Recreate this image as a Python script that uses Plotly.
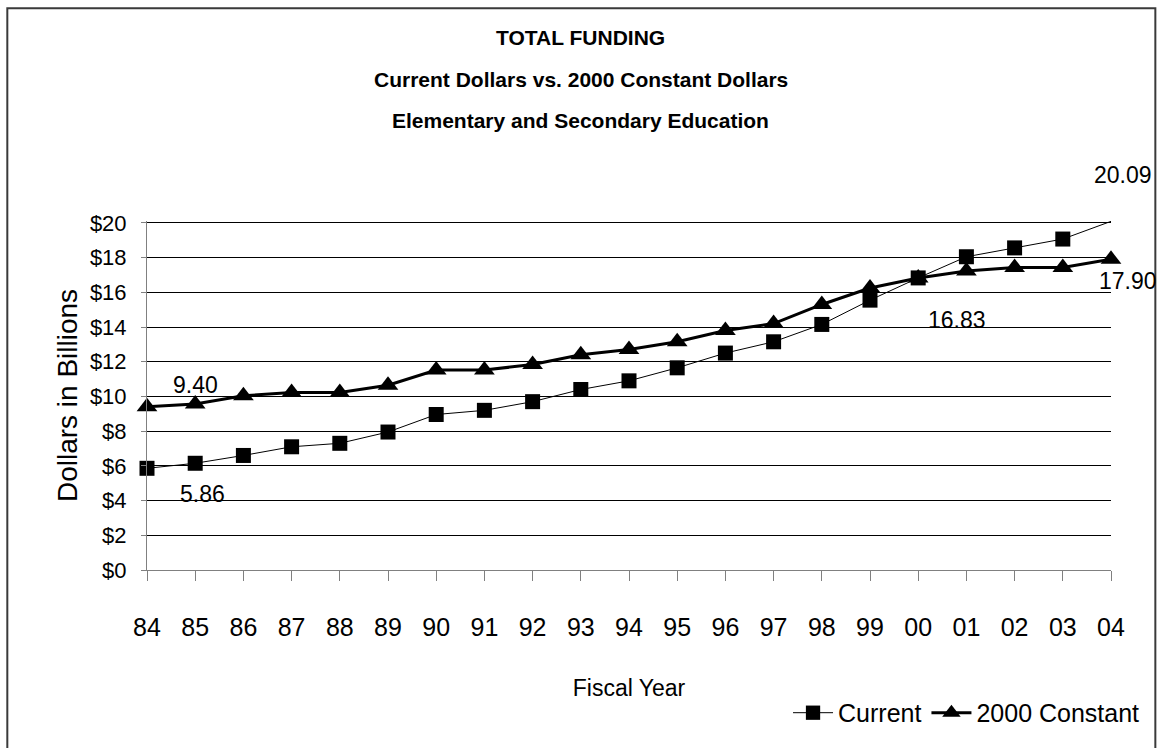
import plotly.graph_objects as go

# Fiscal years 1984-2004 (two-digit labels)
years = ["84", "85", "86", "87", "88", "89", "90", "91", "92", "93", "94",
         "95", "96", "97", "98", "99", "00", "01", "02", "03", "04"]

# Total funding, billions of dollars
current = [5.86, 6.15, 6.60, 7.10, 7.30, 7.95, 8.96, 9.20, 9.70, 10.40, 10.90,
           11.65, 12.50, 13.15, 14.15, 15.55, 16.83, 18.05, 18.56, 19.07, 20.09]
constant_2000 = [9.40, 9.56, 10.04, 10.23, 10.23, 10.65, 11.52, 11.52, 11.84, 12.40, 12.70,
                 13.15, 13.80, 14.20, 15.30, 16.25, 16.83, 17.23, 17.43, 17.43, 17.90]

y_ticks = [0, 2, 4, 6, 8, 10, 12, 14, 16, 18, 20]
y_tick_text = ["$" + str(v) for v in y_ticks]

title_lines = ["TOTAL FUNDING",
               "Current Dollars vs. 2000 Constant Dollars",
               "Elementary and Secondary Education"]

FONT = "Liberation Sans, Arial, sans-serif"

fig = go.Figure()

fig.add_trace(go.Scatter(
    x=years, y=constant_2000, name="2000 Constant", mode="lines+markers",
    line=dict(color="black", width=3),
    marker=dict(symbol="triangle-up", size=18, color="black", opacity=1,
                line=dict(width=0, color="black")),
    legendrank=2, cliponaxis=False,
))

# last current-dollar point is drawn as a line end only
current_sizes = [15] * (len(current) - 1) + [0]
fig.add_trace(go.Scatter(
    x=years, y=current, name="Current", mode="lines+markers",
    line=dict(color="black", width=1),
    marker=dict(symbol="square", size=current_sizes, color="black", opacity=1,
                line=dict(width=0, color="black")),
    legendrank=1, cliponaxis=False,
))

# value labels: (category index, value, x offset px, y offset px)
labels = [
    (0, constant_2000[0], 48, 22),
    (0, current[0], 55, -26),
    (16, current[16], 39, -42),
    (20, current[20], 12, 46),
    (20, constant_2000[20], 17, -22),
]
for xi, yv, dx, dy in labels:
    fig.add_annotation(x=xi, y=yv, text=f"{yv:.2f}", showarrow=False,
                       xshift=dx, yshift=dy,
                       font=dict(family=FONT, size=23, color="black"))

# chart title
for line, yp in zip(title_lines, [1.5254, 1.4068, 1.2881]):
    fig.add_annotation(x=0.4502, y=yp, xref="paper", yref="paper", text=f"<b>{line}</b>",
                       showarrow=False, xanchor="center", yanchor="middle",
                       font=dict(family=FONT, size=21, color="black"))

# outer chart border
fig.add_shape(type="rect", xref="paper", yref="paper",
              x0=-0.1449, x1=1.0460, y0=-0.53, y1=1.6097,
              line=dict(color="#3a3a3a", width=2), layer="above")

fig.update_layout(
    width=1163, height=748,
    margin=dict(l=147, r=52, t=221, b=173),
    paper_bgcolor="white", plot_bgcolor="white",
    showlegend=True,
    legend=dict(orientation="h", x=1.0353, y=-0.4096, xanchor="right", yanchor="middle",
                font=dict(family=FONT, size=25, color="black"),
                bgcolor="rgba(0,0,0,0)", itemwidth=40, tracegroupgap=0),
    xaxis=dict(
        type="category", range=[0, len(years) - 1],
        showgrid=False, showline=True, linecolor="#808080", linewidth=1,
        ticks="outside", ticklen=10, tickcolor="#808080", tickwidth=1,
        ticklabelstandoff=25,
        tickfont=dict(family=FONT, size=25, color="black"),
        title=dict(text="Fiscal Year", standoff=39,
                   font=dict(family=FONT, size=23, color="black")),
        zeroline=False,
    ),
    yaxis=dict(
        range=[0, 20.11], tickvals=y_ticks, ticktext=y_tick_text,
        showgrid=True, gridcolor="black", gridwidth=1,
        showline=True, linecolor="#808080", linewidth=1,
        ticks="outside", ticklen=5, tickcolor="#808080", tickwidth=1,
        ticklabelstandoff=10,
        tickfont=dict(family=FONT, size=22, color="black"),
        title=dict(text="Dollars in Billions", standoff=4,
                   font=dict(family=FONT, size=28, color="black")),
        zeroline=False,
    ),
)

fig.write_html("out.html")
